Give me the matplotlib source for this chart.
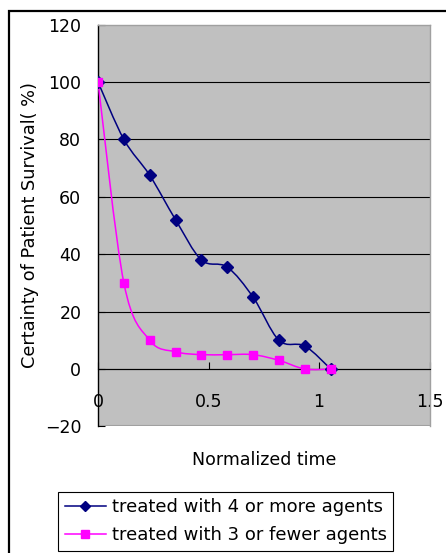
import numpy as np
import matplotlib
matplotlib.use("Agg")
import matplotlib.pyplot as plt
from matplotlib.path import Path
from matplotlib.patches import PathPatch, Rectangle
from matplotlib.lines import Line2D

plt.rcParams['font.family'] = ['DejaVu Sans', 'Noto Sans CJK JP']

# data
time = [0, 0.117, 0.234, 0.351, 0.468, 0.585, 0.702, 0.819, 0.936, 1.053]
more_agents = [100, 80, 67.5, 52, 38, 35.5, 25, 10, 8, 0]
fewer_agents = [100, 30, 10, 6, 5, 5, 5, 3, 0, 0]

labels = ["treated with 4 or more agents", "treated with 3 or fewer agents"]
xticks = [0, 0.5, 1, 1.5]
xticklabels = ["0", "0.5", "1", "1.5"]
yticks = [-20, 0, 20, 40, 60, 80, 100, 120]

navy = "#000080"
pink = "#FF00FF"


def smooth_path(xs, ys):
    # excel style smoothed line (bezier through the points)
    pts = np.column_stack([xs, ys]).astype(float)
    n = len(pts)
    verts = [pts[0]]
    codes = [Path.MOVETO]
    for i in range(n - 1):
        p0 = pts[max(i - 1, 0)]
        p1 = pts[i]
        p2 = pts[i + 1]
        p3 = pts[min(i + 2, n - 1)]
        verts += [p1 + (p2 - p0) / 6, p2 - (p3 - p1) / 6, p2]
        codes += [Path.CURVE4] * 3
    return Path(verts, codes)


fig = plt.figure(figsize=(4.46, 5.53), dpi=100)
fig.patch.set_facecolor("white")
ax = fig.add_axes([98 / 446, 1 - 426.4 / 553, 331.5 / 446, 401.8 / 553])
ax.set_facecolor("#C0C0C0")

ax.set_xlim(0, 1.5)
ax.set_ylim(-20, 120)

for y in yticks[1:-1]:
    ax.axhline(y, color="black", lw=0.8, zorder=1)

for ys, c in [(more_agents, navy), (fewer_agents, pink)]:
    ax.add_patch(PathPatch(smooth_path(time, ys), facecolor="none",
                           edgecolor=c, lw=1.1, zorder=3))

ax.plot(time, more_agents, ls="none", marker="D", ms=6.5, color=navy, zorder=4)
ax.plot(time, fewer_agents, ls="none", marker="s", ms=6.2, color=pink, zorder=4)

ax.spines["left"].set_color("black")
ax.spines["left"].set_linewidth(1.0)
ax.spines["bottom"].set_position(("data", 0))
ax.spines["bottom"].set_color("black")
ax.spines["bottom"].set_linewidth(0.8)
for s in ["top", "right"]:
    ax.spines[s].set_color("#a0a0a0")
    ax.spines[s].set_linewidth(1.0)
ax.axhline(-20, color="#a0a0a0", lw=1.5, zorder=2)

ax.set_xticks(xticks)
ax.set_xticklabels(xticklabels)
ax.set_yticks(yticks)
ax.tick_params(axis="x", direction="in", length=5, width=0.8, pad=17,
               labelsize=12.5)
ax.tick_params(axis="y", direction="in", length=5, width=0.8, pad=12,
               labelsize=12.5)

fig.text(30 / 446, 1 - 225 / 553, "Certainty of Patient Survival( %)",
         rotation=90, ha="center", va="center", fontsize=12.8)
fig.text(263.7 / 446, 1 - 460 / 553, "Normalized time",
         ha="center", va="center", fontsize=12.5)

handles = [
    Line2D([], [], color=navy, lw=1.1, marker="D", ms=5.5),
    Line2D([], [], color=pink, lw=1.1, marker="s", ms=5.5),
]
leg = fig.legend(handles, labels, loc="upper left",
                 bbox_to_anchor=(58.3 / 446, 1 - 492 / 553),
                 borderaxespad=0, fancybox=False, edgecolor="black",
                 framealpha=1, fontsize=13, handlelength=2.3,
                 handletextpad=0.3, labelspacing=0.55, borderpad=0.35)
leg.get_frame().set_linewidth(0.8)

# outer chart frame (cut off at right and bottom)
fig.patches.append(Rectangle((8.5 / 446, -0.1), 1.0, 1.1 - 11.5 / 553,
                             transform=fig.transFigure, fill=False,
                             edgecolor="black", lw=1.6))

fig.savefig("out.png", dpi=100)
